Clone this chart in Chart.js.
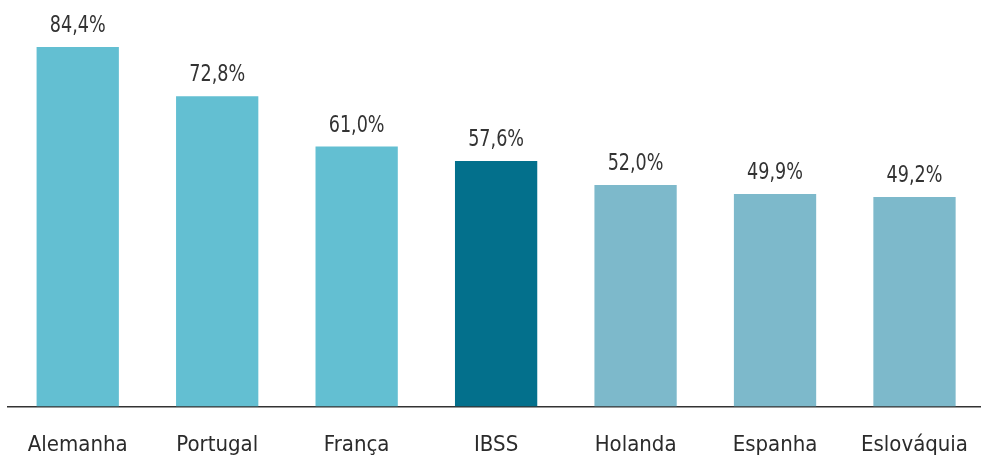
<!DOCTYPE html>
<html lang="pt">
<head>
<meta charset="utf-8">
<title>Comparativo</title>
<script src="https://cdn.jsdelivr.net/npm/chart.js@4"></script>
<style>
  html, body { margin: 0; padding: 0; background: #fff; overflow: hidden; }
  /* a bit wider than the window: the last column runs past the right edge */
  .wrap { position: relative; width: 993px; height: 457px; }
</style>
</head>
<body>
<div class="wrap"><canvas id="chart"></canvas></div>
<script>
  // ── Data ────────────────────────────────────────────────
  const countries = ['Alemanha', 'Portugal', 'França', 'IBSS', 'Holanda', 'Espanha', 'Eslováquia'];
  const shares    = [84.4, 72.8, 61.0, 57.6, 52.0, 49.9, 49.2];
  const barColors = ['#63bfd2', '#63bfd2', '#63bfd2', '#03708c', '#7db9cb', '#7db9cb', '#7db9cb'];

  const FONT = "'DejaVu Sans Condensed', 'DejaVu Sans', sans-serif";
  const fmt = v => v.toFixed(1).replace('.', ',') + '%';

  // value labels above each bar (squeezed a little to look like a narrow face)
  const valueLabels = {
    id: 'valueLabels',
    afterDatasetsDraw(chart) {
      const ctx = chart.ctx;
      const meta = chart.getDatasetMeta(0);
      ctx.save();
      ctx.font = '23px ' + FONT;
      ctx.fillStyle = '#333';
      ctx.textAlign = 'center';
      ctx.textBaseline = 'alphabetic';
      meta.data.forEach((bar, i) => {
        ctx.save();
        ctx.translate(bar.x, bar.y - 15);
        ctx.scale(0.85, 1);
        ctx.fillText(fmt(shares[i]), 0, 0);
        ctx.restore();
      });
      ctx.restore();
    }
  };

  new Chart(document.getElementById('chart'), {
    type: 'bar',
    data: {
      labels: countries,
      datasets: [{
        data: shares,
        backgroundColor: barColors,
        borderWidth: 0,
        categoryPercentage: 1,
        barPercentage: 0.59
      }]
    },
    options: {
      responsive: true,
      maintainAspectRatio: false,
      animation: false,
      layout: { padding: { left: 8, right: 0, top: 0, bottom: -26 } },
      plugins: { legend: { display: false }, tooltip: { enabled: false } },
      scales: {
        x: {
          grid: { display: false, drawTicks: false },
          border: { display: true, color: '#333', width: 1.5 },
          ticks: {
            color: '#2b2b2b',
            padding: 25,
            maxRotation: 0,
            autoSkip: false,
            font: { family: FONT, size: 22 }
          }
        },
        y: {
          display: false,
          min: 0,
          max: 95.4
        }
      }
    },
    plugins: [valueLabels]
  });
</script>
</body>
</html>
